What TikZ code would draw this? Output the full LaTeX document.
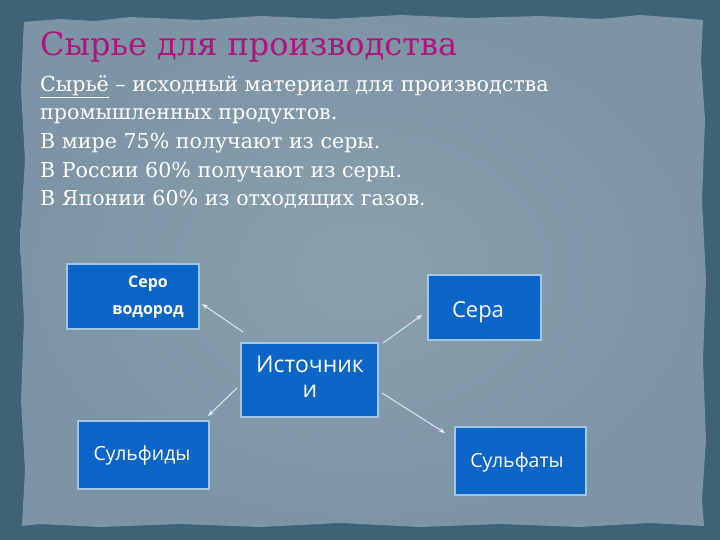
\documentclass[tikz,border=0pt]{standalone}
\usepackage{fontspec}
\setmainfont{DejaVu Serif}
\newfontfamily\boxfont{Open Sans}
\usetikzlibrary{arrows.meta}
\definecolor{frame}{HTML}{3E6276}
\definecolor{paper}{HTML}{7C94A4}
\definecolor{paperlight}{HTML}{8AA0AE}
\definecolor{titlec}{HTML}{B0127E}
\definecolor{boxfill}{HTML}{0B65C7}
\definecolor{boxedge}{HTML}{A4C6E6}
\tikzset{
  bluebox/.style={draw=boxedge, line width=1.2pt, fill=boxfill, inner sep=0pt},
  boxtext/.style={text=white, font=\boxfont, inner sep=0pt, align=center},
  bodyline/.style={anchor=base west, text=white, font=\fontsize{20.6}{24}\selectfont, inner sep=0pt},
  conn/.style={draw=white!92!blue, line width=0.9pt, -{Stealth[length=6pt,width=4.5pt]}}
}
\begin{document}
\begin{tikzpicture}[x=1pt,y=-1pt]
\useasboundingbox (0,0) rectangle (720,540);
\fill[frame] (0,0) rectangle (720,540);
\path[inner color=paperlight, outer color=paper] (24,22) -- (60,19) -- (95,21) -- (130,17) -- (200,20) -- (260,16) -- (330,19) -- (400,15) -- (470,18) -- (540,16) -- (600,19) -- (640,15) -- (680,18) -- (703,20)
  -- (701,60) -- (705,120) -- (702,200) -- (706,280) -- (703,360) -- (706,440) -- (702,500) -- (704,526)
  -- (650,523) -- (580,527) -- (500,524) -- (420,527) -- (340,523) -- (260,527) -- (180,524) -- (100,527) -- (40,524) -- (22,526)
  -- (25,470) -- (21,400) -- (24,320) -- (20,240) -- (25,160) -- (21,90) -- (23,40) -- cycle;

\node[anchor=base west, text=titlec, font=\fontsize{32}{36}\selectfont, inner sep=0pt] (title) at (40,56) {Сырье для производства};
\node[bodyline] (l1) at (40,92) {\underline{Сырьё} – исходный материал для производства};
\node[bodyline] (l2) at (40,120) {промышленных продуктов.};
\node[bodyline] (l3) at (40,149) {В мире 75\% получают из серы.};
\node[bodyline] (l4) at (40,178) {В России 60\% получают из серы.};
\node[bodyline] (l5) at (40,206) {В Японии 60\% из отходящих газов.};

\node[bluebox, minimum width=132pt, minimum height=65pt] (hs) at (133,296.5) {};
\node[boxtext, font=\boxfont\bfseries\fontsize{16}{27}\selectfont] (hst) at (148,297) {Серо\\водород};
\node[bluebox, minimum width=113pt, minimum height=65pt] (s) at (484.5,307.5) {};
\node[boxtext, font=\boxfont\fontsize{22}{24}\selectfont] (st) at (478,312) {Сера};
\node[bluebox, minimum width=137pt, minimum height=74pt] (src) at (309.5,380) {};
\node[boxtext, font=\boxfont\fontsize{23}{25}\selectfont] (srct) at (310,377) {Источник\\и};
\node[bluebox, minimum width=131pt, minimum height=68pt] (sf) at (143.5,455) {};
\node[boxtext, font=\boxfont\fontsize{19.5}{22}\selectfont] (sft) at (142,455) {Сульфиды};
\node[bluebox, minimum width=131pt, minimum height=68pt] (sa) at (520.5,461) {};
\node[boxtext, font=\boxfont\fontsize{19.5}{22}\selectfont] (sat) at (517,462) {Сульфаты};

\coordinate (a1s) at (243,332); \coordinate (a1e) at (202,304);
\coordinate (a2s) at (383,343); \coordinate (a2e) at (422,315);
\coordinate (a3s) at (237,388); \coordinate (a3e) at (208,416);
\coordinate (a4s) at (382,393); \coordinate (a4e) at (445,433);
\draw[conn] (a1s) -- (a1e);
\draw[conn] (a2s) -- (a2e);
\draw[conn] (a3s) -- (a3e);
\draw[conn] (a4s) -- (a4e);
\end{tikzpicture}
\end{document}
